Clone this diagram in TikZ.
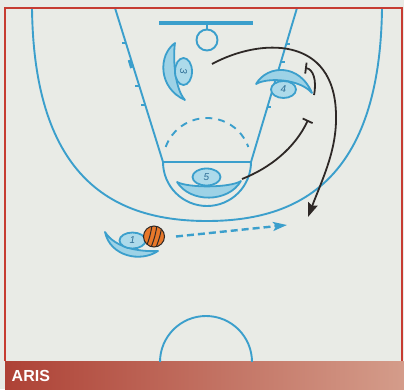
\documentclass[tikz,border=0pt]{standalone}
\usepackage{fontspec}
\setmainfont{Liberation Sans}
\usetikzlibrary{arrows.meta,shapes.geometric}
\definecolor{paper}{HTML}{E9EBE6}
\definecolor{courtblue}{HTML}{3B9FCC}
\definecolor{figfill}{HTML}{9DD2E6}
\definecolor{headfill}{HTML}{ADDAEA}
\definecolor{numblue}{HTML}{2F6F96}
\definecolor{ink}{HTML}{2E2826}
\definecolor{framered}{HTML}{C63C32}
\definecolor{barleft}{HTML}{AE4236}
\definecolor{barright}{HTML}{D49C8A}
\definecolor{ballorange}{HTML}{E8782A}
\tikzset{
  court/.style={draw=courtblue, line width=1.9pt},
  tick/.style={draw=courtblue, line width=1.5pt},
  figure/.style={draw=courtblue, fill=figfill, line width=1.8pt, line join=round},
  head/.style={ellipse, draw=courtblue, fill=headfill, line width=1.8pt, inner sep=0pt,
    font=\fontsize{10}{10}\selectfont\itshape, text=numblue},
  move/.style={draw=ink, line width=1.8pt},
  cutarrow/.style={move, -{Stealth[length=14pt,width=10pt,inset=2pt]}},
  screen/.style={move, -{Bar[width=11pt,line width=1.8pt]}},
  pass/.style={draw=courtblue, line width=2.4pt, dash pattern=on 7pt off 4pt,
    -{Stealth[length=14pt,width=9pt,inset=3pt,sep=0pt]}},
}
\begin{document}
\begin{tikzpicture}[x=1pt,y=-1pt]
\useasboundingbox (0,0) rectangle (404,389);
\fill[paper] (0,0) rectangle (404,389);

% caption bar
\shade[left color=barleft, right color=barright] (5,361) rectangle (404,389);
\node[font=\fontsize{16}{16}\selectfont\bfseries, text=white, anchor=base west, inner sep=0pt]
  (title) at (11.5,381.5) {ARIS};

% court lines, kept inside the frame
\begin{scope}
  \clip (5,8) rectangle (402,361);
  % three-point line
  \draw[court] (32,8) .. controls (34,180) and (115,221) .. (207,221)
                     .. controls (299,221) and (380,180) .. (382,8);
  % centre circle
  \draw[court] (206,362) circle (46);
\end{scope}

% lane and free-throw circle
\draw[court, line join=round] (115,8) -- (163,162) -- (251,162) -- (297,8);
\draw[court] (251,162) arc[start angle=0, end angle=180, radius=44];
\draw[court, dash pattern=on 7pt off 6pt] (207,162) ++(-160:44)
  arc[start angle=-160, end angle=-20, radius=44];

% lane marks
\draw[tick] (125.7,43) -- ++(-4,0);
\draw[tick] (138.8,86) -- ++(-4,0);
\draw[tick] (144.6,105) -- ++(-4,0);
\draw[courtblue, line width=3pt] (129.2,60) -- (131.6,68);
\draw[tick] (286.2,44) -- ++(4,0);
\draw[tick] (280.9,62) -- ++(4,0);
\draw[tick] (267.4,107) -- ++(4,0);

% backboard and ring
\draw[courtblue, line width=4pt] (159,22.5) -- (253,22.5);
\draw[court] (207,24) -- (207,29.5);
\draw[court] (207,40) circle (10.5);

% player 3
\draw[figure] (175,43) .. controls (158,55) and (158,88) .. (185,100)
              .. controls (174,88) and (173,55) .. cycle;
\node[head, minimum width=27pt, minimum height=17pt, rotate=-90] (p3) at (183.5,71.5) {3};

% player 4
\draw[figure] (256,84) .. controls (268,64) and (300,64) .. (312,93)
              .. controls (300,79) and (268,77) .. cycle;
\node[head, minimum width=25pt, minimum height=17pt] (p4) at (283.5,89.5) {4};

% player 5
\draw[figure] (177,182) .. controls (190,203) and (228,203) .. (241,181)
              .. controls (230,188) and (188,188) .. cycle;
\node[head, minimum width=28pt, minimum height=17pt] (p5) at (206.5,177) {5};

% player 1 with the ball
\draw[figure] (105,232) .. controls (110,256) and (140,263) .. (158,251)
              .. controls (140,252) and (115,248) .. cycle;
\node[head, minimum width=26pt, minimum height=16pt] (p1) at (132.5,240.5) {1};
\node[circle, draw=ink, fill=ballorange, line width=1pt, minimum size=21pt, inner sep=0pt]
  (ball) at (154,236.5) {};
\begin{scope}
  \clip (ball.center) circle (10);
  \foreach \s in {-5,0,5}
    \draw[ink, line width=1pt] ([xshift=\s pt+3pt, yshift=11pt]ball.center)
      .. controls ([xshift=\s pt+1pt]ball.center) .. ([xshift=\s pt-3pt, yshift=-11pt]ball.center);
\end{scope}

% movements
\coordinate (cutA) at (212,64);
\coordinate (cutB) at (336,115);
\coordinate (cutC) at (308,217);
\draw[cutarrow] (cutA) .. controls (260,38) and (335,35) .. (cutB)
                       .. controls (337,150) and (322,180) .. (cutC);

\coordinate (scr4A) at (314,95);
\coordinate (scr4B) at (305,68);
\draw[screen] (scr4A) .. controls (317,80) and (313,69) .. (scr4B);

\coordinate (scr5A) at (242,179);
\coordinate (scr5B) at (308,120);
\draw[screen] (scr5A) .. controls (270,168) and (295,148) .. (scr5B);

\coordinate (passB) at (287,225);
\draw[pass] (ball.east) ++(11,0) coordinate (passA) -- (passB);

% frame
\draw[framered, line width=1.2pt] (5,361) -- (5,8) -- (402,8) -- (402,361);
\end{tikzpicture}
\end{document}
